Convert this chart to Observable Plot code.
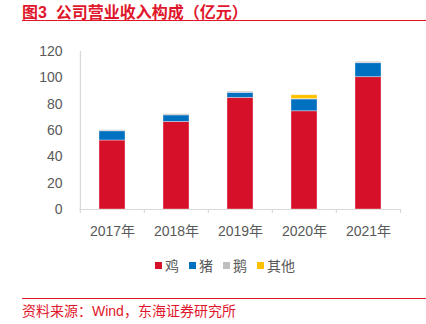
<!DOCTYPE html>
<html>
<head>
<meta charset="utf-8">
<script src="https://cdn.jsdelivr.net/npm/d3@7"></script>
<script src="https://cdn.jsdelivr.net/npm/@observablehq/plot@0.6"></script>
<style>
  body { margin: 0; background: #fff; font-family: "Liberation Sans", Arial, "Noto Sans CJK SC", sans-serif; }
  #wrap { position: relative; width: 426px; height: 324px; overflow: hidden; }
  #title { position: absolute; left: 22px; top: -1px; font-size: 16px; font-weight: bold; color: #E0172C; white-space: nowrap; font-family: "Liberation Sans", Arial, "Noto Sans CJK SC", sans-serif; }
  #tline { position: absolute; left: 22px; right: 0; top: 20px; height: 1px; background: #E0172C; }
  #chart { position: absolute; left: 0; top: 24px; }
  #legend { position: absolute; left: 0; width: 426px; top: 255px; display: flex; justify-content: center; padding-left: 24px; box-sizing: border-box; font-size: 14px; color: #595959; }
  #legend span.item { display: inline-flex; align-items: center; margin: 0 5px; }
  #legend span.sw { display: inline-block; width: 7px; height: 7px; margin-right: 3px; }
  #fline { position: absolute; left: 22px; right: 0; top: 298px; height: 1px; background: #E0172C; }
  #source { position: absolute; left: 22px; top: 300px; font-size: 14px; color: #E0172C; white-space: nowrap; }
</style>
</head>
<body>
<div id="wrap">
  <div id="title">图3&nbsp;&nbsp;公司营业收入构成（亿元）</div>
  <div id="tline"></div>
  <div id="chart"></div>
  <div id="legend"></div>
  <div id="fline"></div>
  <div id="source">资料来源：Wind，东海证券研究所</div>
</div>
<script>
const years = ["2017年", "2018年", "2019年", "2020年", "2021年"];
const chicken = [52.4, 66.5, 84.8, 74.6, 100.5];
const pig = [7.0, 5.0, 3.8, 9.0, 10.6];
const goose = [0.8, 0.9, 0.9, 0.3, 1.0];
const other = [0, 0, 0, 2.9, 0];
const seriesNames = ["鸡", "猪", "鹅", "其他"];
const seriesColors = ["#D7102A", "#0070C0", "#BFBFBF", "#FFC000"];
const yTicks = [0, 20, 40, 60, 80, 100, 120];

const seriesValues = [chicken, pig, goose, other];
const rows = [];
years.forEach((yr, i) => {
  seriesNames.forEach((s, j) => {
    rows.push({year: yr, series: s, value: seriesValues[j][i]});
  });
});

const W = 426, H = 215, mL = 79, mR = 26;
const step = (W - mL - mR) / years.length;

const chart = Plot.plot({
  width: W,
  height: H,
  marginLeft: mL,
  marginRight: mR,
  marginTop: 27,
  marginBottom: 30,
  style: {background: "transparent", fontFamily: "'Liberation Sans', Arial, 'Noto Sans CJK SC', sans-serif", fontSize: "14px", color: "#595959"},
  x: {domain: years, paddingInner: 0.6, paddingOuter: 0.3, label: null},
  y: {domain: [0, 120], label: null},
  color: {domain: seriesNames, range: seriesColors},
  marks: [
    Plot.axisY({ticks: yTicks, tickSize: 0, tickPadding: 17, fontSize: 14, fill: "#595959"}),
    Plot.axisX({tickSize: 0, tickPadding: 17, fontSize: 14, fill: "#595959"}),
    Plot.ruleY([0], {stroke: "#D9D9D9", strokeWidth: 1.2}),
    Plot.ruleX([0], {x: () => years[0], y1: 0, y2: 120, dx: -step / 2, stroke: "#D9D9D9", strokeWidth: 1.2}),
    Plot.ruleX(years, {x: d => d, y1: 0, y2: 0, dx: -step / 2, insetTop: 4, stroke: "#D9D9D9", strokeWidth: 1.2}),
    Plot.ruleX([years[years.length - 1]], {x: d => d, y1: 0, y2: 0, dx: step / 2, insetTop: 4, stroke: "#D9D9D9", strokeWidth: 1.2}),
    Plot.barY(rows, Plot.stackY({x: "year", y: "value", fill: "series", order: seriesNames, stroke: "#ffffff", strokeOpacity: 0.45, strokeWidth: 0.8}))
  ]
});
document.getElementById("chart").appendChild(chart);

const legend = document.getElementById("legend");
seriesNames.forEach((s, i) => {
  const item = document.createElement("span");
  item.className = "item";
  const sw = document.createElement("span");
  sw.className = "sw";
  sw.style.background = seriesColors[i];
  item.appendChild(sw);
  item.appendChild(document.createTextNode(s));
  legend.appendChild(item);
});
</script>
</body>
</html>
